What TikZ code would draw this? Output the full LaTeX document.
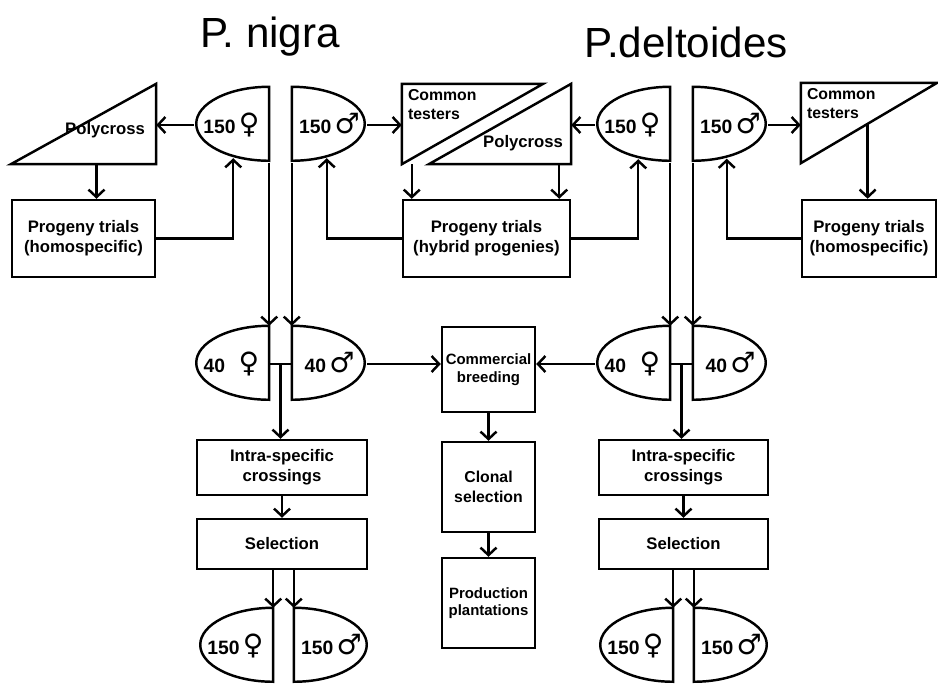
\documentclass[tikz,border=0pt]{standalone}
\usepackage{fontspec}
\setmainfont{Liberation Sans}
\newfontfamily\symfont{DejaVu Sans}
\usetikzlibrary{arrows.meta,calc}

\newcommand{\femsym}{{\symfont\fontsize{16}{16}\selectfont ♀\vphantom{♂}}}
\newcommand{\malsym}{{\symfont\fontsize{16}{16}\selectfont ♂\vphantom{♀}}}

\begin{document}
\begin{tikzpicture}[
    x=0.02cm, y=-0.02cm,
    line width=1.4pt,
    >={Straight Barb[length=1.5mm,width=3.2mm]},
    every node/.style={font=\bfseries\fontsize{9.5}{11.5}\selectfont, align=center, inner sep=0pt},
    box/.style={draw, rectangle},
    half/.style={rectangle, minimum width=1.46cm, minimum height=1.48cm, font=\bfseries\fontsize{11}{13}\selectfont},
    tri/.style={rectangle, minimum height=1.56cm},
    title/.style={font=\fontsize{24}{28}\selectfont}
]
\useasboundingbox (0,0) rectangle (938,687);

% titles
\node[title, anchor=base] (tNig) at (270,47) {P. nigra};
\node[title, anchor=base] (tDel) at (686,57) {P.deltoides};

% parent populations
\node[half] (fA) at (231.5,125) {150\,\femsym};
\node[half] (mA) at (329.5,125) {150\,\malsym};
\node[half] (fB) at (632.5,125) {150\,\femsym};
\node[half] (mB) at (730.5,125) {150\,\malsym};

% testers and polycross
\node[tri, minimum width=2.86cm] (polyA) at (83.5,124) {};
\node[tri, minimum width=2.78cm] (ctB) at (472.5,124) {};
\node[tri, minimum width=2.8cm] (polyB) at (500,124) {};
\node[tri, minimum width=2.68cm] (ctC) at (869,123) {};
\draw (polyA.south west) -- (polyA.north east) -- (polyA.south east) -- cycle;
\draw (polyB.south west) -- (polyB.north east) -- (polyB.south east) -- cycle;
\draw (ctB.north west) -- (ctB.north east) -- (ctB.south west) -- cycle;
\draw (ctC.north west) -- (ctC.north east) -- (ctC.south west) -- cycle;
\node[anchor=east] (polyAtxt) at ([xshift=-0.2cm,yshift=-0.12cm]polyA.east) {Polycross};
\node[anchor=east] (polyBtxt) at ([xshift=-0.14cm,yshift=-0.38cm]polyB.east) {Polycross};
\node[anchor=north west, align=left, font=\bfseries\fontsize{9}{11}\selectfont] (ctBtxt) at ([xshift=0.1cm,yshift=-0.08cm]ctB.north west) {Common\\testers};
\node[anchor=north west, align=left, font=\bfseries\fontsize{9}{11}\selectfont] (ctCtxt) at ([xshift=0.1cm,yshift=-0.08cm]ctC.north west) {Common\\testers};

% progeny trials
\node[box, minimum width=2.86cm, minimum height=1.54cm] (progA) at (83.5,238.5) {Progeny trials\\(homospecific)};
\node[box, minimum width=3.34cm, minimum height=1.54cm] (progB) at (486.5,238.5) {Progeny trials\\(hybrid progenies)};
\node[box, minimum width=2.68cm, minimum height=1.54cm] (progC) at (869,238.5) {Progeny trials\\(homospecific)};

% breeding populations
\node[half] (fC) at (231.5,364) {40\hspace{0.7em}\femsym};
\node[half] (mC) at (329.5,364) {40\,\malsym};
\node[half] (fD) at (632.5,364) {40\hspace{0.7em}\femsym};
\node[half] (mD) at (730.5,364) {40\,\malsym};

\node[box, minimum width=1.86cm, minimum height=1.7cm, font=\bfseries\fontsize{8.5}{10}\selectfont] (comm) at (488.5,369.5) {Commercial\\breeding};
\node[box, minimum width=1.86cm, minimum height=1.8cm, font=\bfseries\fontsize{9}{11}\selectfont] (clon) at (488.5,487) {Clonal\\selection};
\node[box, minimum width=1.86cm, minimum height=1.8cm, font=\bfseries\fontsize{8.5}{10}\selectfont] (prod) at (488.5,603) {Production\\plantations};

\node[box, minimum width=3.4cm, minimum height=1.1cm] (intraA) at (282,467.5) {Intra-specific\\crossings};
\node[box, minimum width=3.4cm, minimum height=1.0cm] (selA) at (282,544) {Selection};
\node[box, minimum width=3.38cm, minimum height=1.1cm] (intraB) at (683.5,467.5) {Intra-specific\\crossings};
\node[box, minimum width=3.38cm, minimum height=1.0cm] (selB) at (683.5,544) {Selection};

% next generation
\node[half] (fE) at (235.5,646) {150\,\femsym};
\node[half] (mE) at (331.5,646) {150\,\malsym};
\node[half] (fF) at (635.5,646) {150\,\femsym};
\node[half] (mF) at (731.5,646) {150\,\malsym};

\foreach \n in {fA,fB,fC,fD,fE,fF}
    \draw (\n.north east) arc[start angle=90, end angle=270, x radius=1.46cm, y radius=0.74cm] -- cycle;
\foreach \n in {mA,mB,mC,mD,mE,mF}
    \draw (\n.north west) arc[start angle=90, end angle=-90, x radius=1.46cm, y radius=0.74cm] -- cycle;

% connectors
\draw[->] (fA.south east) -- (fC.north east);
\draw[->] (mA.south west) -- (mC.north west);
\draw[->] (fB.south east) -- (fD.north east);
\draw[->] (mB.south west) -- (mD.north west);

\draw[->] (fA.west) -- (fA.west -| polyA.east);
\draw[->] (mA.east) -- (mA.east -| ctB.west);
\draw[->] (fB.west) -- (fB.west -| polyB.east);
\draw[->] (mB.east) -- (mB.east -| ctC.west);

\coordinate (ctCdrop) at ($(ctC.south west)!0.49!(ctC.north east)$);
\draw[->] ([xshift=0.26cm]polyA.south) -- ([xshift=0.26cm]progA.north);
\draw[->] ([xshift=0.2cm]ctB.south west) -- ([xshift=0.2cm]ctB.south west |- progB.north);
\draw[->] ([xshift=-0.24cm]polyB.south east) -- ([xshift=-0.24cm]polyB.south east |- progB.north);
\draw[->] (ctCdrop) -- (ctCdrop |- progC.north);

\draw[->] (progA.east) -| ([xshift=-0.72cm,yshift=0.1cm]fA.south east);
\draw[->] (progB.west) -| ([xshift=0.7cm,yshift=0.1cm]mA.south west);
\draw[->] (progB.east) -| ([xshift=-0.64cm,yshift=0.08cm]fB.south east);
\draw[->] (progC.west) -| ([xshift=0.68cm,yshift=0.09cm]mB.south west);

\coordinate (midA) at ($(fC.east)!0.5!(mC.west)$);
\coordinate (midB) at ($(fD.east)!0.5!(mD.west)$);
\draw (fC.east) -- (mC.west);
\draw (fD.east) -- (mD.west);
\draw[->] (midA) -- (midA |- intraA.north);
\draw[->] (midB) -- (midB |- intraB.north);
\draw[->] (intraA.south) -- (selA.north);
\draw[->] (intraB.south) -- (selB.north);

\draw[->] (fE.north east |- selA.south) -- (fE.north east);
\draw[->] (mE.north west |- selA.south) -- (mE.north west);
\draw[->] (fF.north east |- selB.south) -- (fF.north east);
\draw[->] (mF.north west |- selB.south) -- (mF.north west);

\draw[->] (mC.east) -- (mC.east -| comm.west);
\draw[->] (fD.west) -- (fD.west -| comm.east);
\draw[->] (comm.south) -- (clon.north);
\draw[->] (clon.south) -- (prod.north);

\end{tikzpicture}
\end{document}
